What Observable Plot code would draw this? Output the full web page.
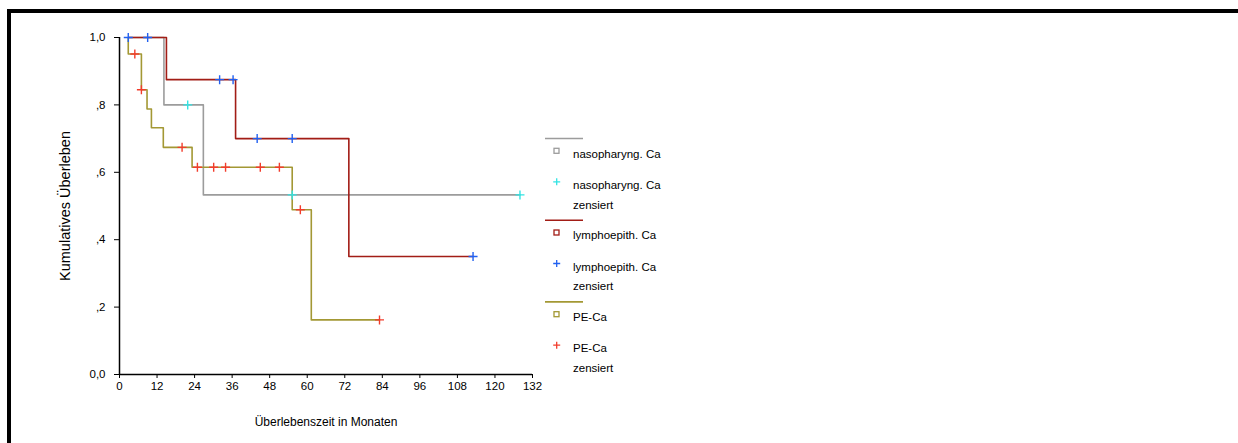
<!DOCTYPE html>
<html><head><meta charset="utf-8">
<script src="https://cdn.jsdelivr.net/npm/d3@7"></script>
<script src="https://cdn.jsdelivr.net/npm/@observablehq/plot@0.6"></script>
<style>
html,body{margin:0;padding:0;background:#fff;overflow:hidden;}
#chart{position:absolute;left:0;top:0;}
#frame{position:absolute;left:7px;top:9px;width:1231px;height:434px;border-top:4px solid #000;border-left:4px solid #000;box-sizing:border-box;pointer-events:none;}
</style></head><body>
<div id="chart"></div><div id="frame"></div>
<script>
// Groups
const groups = ["nasopharyng. Ca", "lymphoepith. Ca", "PE-Ca"];
const censLabel = "zensiert";

// Kaplan-Meier step points (time in months, cumulative survival)
const nasoTime = [2.8, 14.2, 26.8, 128];
const nasoSurv = [1.0, 0.8, 0.533, 0.533];
const lymphTime = [2.8, 15.0, 37.1, 73.3, 113];
const lymphSurv = [1.0, 0.875, 0.7, 0.35, 0.35];
const peTime = [2.8, 2.8, 7.0, 8.8, 10.2, 14.0, 23.2, 55.2, 61.3, 83.1];
const peSurv = [1.0, 0.951, 0.845, 0.788, 0.732, 0.674, 0.615, 0.489, 0.162, 0.162];

// Censored observations
const nasoCensTime = [21.8, 55.2, 128];
const nasoCensSurv = [0.8, 0.533, 0.533];
const lymphCensTime = [2.8, 9.0, 32.0, 36.3, 44.0, 55.2, 113];
const lymphCensSurv = [1.0, 1.0, 0.875, 0.875, 0.7, 0.7, 0.35];
const peCensTime = [4.9, 7.0, 20.0, 24.9, 30.1, 33.9, 45.0, 51.1, 57.8, 83.1];
const peCensSurv = [0.951, 0.845, 0.674, 0.615, 0.615, 0.615, 0.615, 0.615, 0.489, 0.162];

// Axes
const xTicks = [0, 12, 24, 36, 48, 60, 72, 84, 96, 108, 120, 132];
const yTicks = [0, 0.2, 0.4, 0.6, 0.8, 1.0];
const yTickLabels = ["0,0", ",2", ",4", ",6", ",8", "1,0"];
const xTitle = "Überlebenszeit in Monaten";
const yTitle = "Kumulatives Überleben";

// Colours
const lineColors = ["#9c9c9c", "#a21d16", "#a39834"];
const censColors = ["#33e3e3", "#2160f0", "#f23c2c"];

const toRows = (g, t, s) => t.map((d, i) => ({group: g, t: d, s: s[i]}));
const lines = [
  toRows(groups[0], nasoTime, nasoSurv),
  toRows(groups[1], lymphTime, lymphSurv),
  toRows(groups[2], peTime, peSurv)
];
const cens = [
  toRows(groups[0], nasoCensTime, nasoCensSurv),
  toRows(groups[1], lymphCensTime, lymphCensSurv),
  toRows(groups[2], peCensTime, peCensSurv)
];

const plus = {draw(ctx, size) {
  const r = Math.sqrt(size / Math.PI);
  ctx.moveTo(-r, 0); ctx.lineTo(r, 0);
  ctx.moveTo(0, -r); ctx.lineTo(0, r);
}};

const font = "'Liberation Sans', Arial, sans-serif";

const chart = Plot.plot({
  width: 1238, height: 443,
  marginLeft: 119, marginRight: 706, marginTop: 37, marginBottom: 69,
  x: {domain: [0, 132], ticks: xTicks, tickSize: 4, tickPadding: 3, label: null},
  y: {domain: [0, 1], ticks: yTicks, tickFormat: d => yTickLabels[yTicks.findIndex(v => Math.abs(v - d) < 1e-9)], tickSize: 5, tickPadding: 9, label: null},
  style: {fontFamily: font, fontSize: "11.5px", color: "#000", background: "#fff", overflow: "visible"},
  marks: [
    Plot.ruleX([0], {stroke: "#000", strokeWidth: 1.5}),
    Plot.ruleY([0], {stroke: "#000", strokeWidth: 1.5}),
    ...lines.map((rows, i) => Plot.line(rows, {x: "t", y: "s", curve: "step-after", stroke: lineColors[i], strokeWidth: 1.6})),
    ...cens.map((rows, i) => Plot.dot(rows, {x: "t", y: "s", symbol: plus, r: 4.5, stroke: censColors[i], fill: "none", strokeWidth: 1.4})),
    Plot.text([xTitle], {frameAnchor: "bottom", textAnchor: "middle", dy: 51, fontSize: 12, fill: "#000"}),
    Plot.text([yTitle], {frameAnchor: "left", textAnchor: "middle", dx: -54, rotate: -90, fontSize: 14.5, fill: "#000"})
  ]
});
document.getElementById("chart").appendChild(chart);

// Legend
const svg = d3.select(chart);
const lg = svg.append("g").attr("font-family", font).attr("font-size", 11.5)
  .attr("fill", "#000").attr("text-anchor", "start");
const blockTop = 138.5, blockH = 81.7;
groups.forEach((g, i) => {
  const y0 = blockTop + i * blockH;
  lg.append("line").attr("x1", 545).attr("x2", 583).attr("y1", y0).attr("y2", y0)
    .attr("stroke", lineColors[i]).attr("stroke-width", 1.6);
  lg.append("rect").attr("x", 554).attr("y", y0 + 12.3 - 2.5).attr("width", 5).attr("height", 5)
    .attr("fill", "none").attr("stroke", lineColors[i]).attr("stroke-width", 1.3);
  lg.append("text").attr("x", 573).attr("y", y0 + 15).attr("dy", "0.35em").text(g);
  lg.append("path").attr("d", `M${556.7-3.5},${y0+43.3}h7M${556.7},${y0+43.3-3.5}v7`)
    .attr("stroke", censColors[i]).attr("stroke-width", 1.3).attr("fill", "none");
  lg.append("text").attr("x", 573).attr("y", y0 + 46.3).attr("dy", "0.35em").text(g);
  lg.append("text").attr("x", 573).attr("y", y0 + 66).attr("dy", "0.35em").text(censLabel);
});
</script>
</body></html>
